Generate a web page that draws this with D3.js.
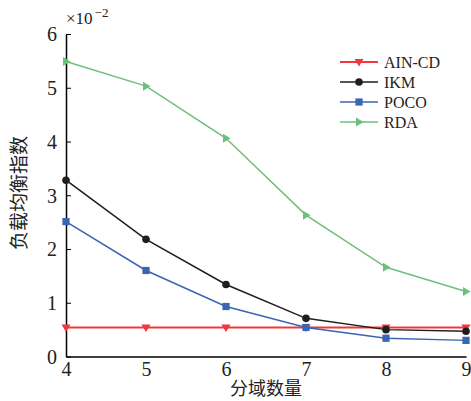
<!DOCTYPE html>
<html>
<head>
<meta charset="utf-8">
<script src="https://cdn.jsdelivr.net/npm/d3@7"></script>
<style>
  body { margin: 0; background: #fff; }
</style>
</head>
<body>
<div id="chart"></div>
<script>
var domains = [4, 5, 6, 7, 8, 9];
var yTicks = [0, 1, 2, 3, 4, 5, 6];
var seriesNames = ["AIN-CD", "IKM", "POCO", "RDA"];
var ainValues = [0.54, 0.54, 0.54, 0.54, 0.54, 0.54];
var ikmValues = [3.28, 2.18, 1.34, 0.71, 0.50, 0.47];
var pocoValues = [2.51, 1.60, 0.93, 0.54, 0.34, 0.30];
var rdaValues = [5.49, 5.03, 4.06, 2.63, 1.66, 1.21];

var serif = "'Liberation Serif', 'Times New Roman', 'DejaVu Serif', serif";
var cjk = "'Noto Sans CJK SC', sans-serif";

var width = 471, height = 401;
var margin = {left: 66, right: 5, top: 34, bottom: 44};

var svg = d3.select("#chart").append("svg")
    .attr("width", width)
    .attr("height", height);

var x = d3.scaleLinear().domain([4, 9]).range([margin.left, width - margin.right]);
var y = d3.scaleLinear().domain([0, 6]).range([height - margin.bottom - 0.5, margin.top]);

var series = [
  {name: seriesNames[0], values: ainValues, color: "#f0383c", symbol: "down"},
  {name: seriesNames[1], values: ikmValues, color: "#1e1e1e", symbol: "circle"},
  {name: seriesNames[2], values: pocoValues, color: "#3a64b4", symbol: "square"},
  {name: seriesNames[3], values: rdaValues, color: "#6cc07c", symbol: "right"}
];

// axes
var yAxis = svg.append("g")
  .attr("transform", "translate(" + margin.left + ",0)")
  .call(d3.axisRight(y).tickValues(yTicks).tickSize(5).tickSizeOuter(0).tickFormat(d3.format("d")));
yAxis.select(".domain").attr("stroke", "#000").attr("stroke-width", 1.5);
yAxis.selectAll(".tick line").attr("stroke", "#000");
yAxis.selectAll(".tick text").attr("x", -9).attr("dy", "0.34em").attr("text-anchor", "end")
  .style("font-size", "20px").style("font-family", serif).attr("fill", "#222");

var xAxis = svg.append("g")
  .attr("transform", "translate(0," + y(0) + ")")
  .call(d3.axisBottom(x).tickValues(domains).tickSize(0).tickSizeOuter(0).tickFormat(d3.format("d")));
xAxis.select(".domain").attr("stroke", "#000").attr("stroke-width", 1.5);
xAxis.selectAll(".tick text").attr("y", 19).attr("dy", 0)
  .style("font-size", "20px").style("font-family", serif).attr("fill", "#222");

// exponent
var expo = svg.append("text")
  .attr("x", 66).attr("y", 24)
  .style("font-size", "17px").style("font-family", serif).attr("fill", "#222");
expo.append("tspan").text("×10");
expo.append("tspan").attr("dx", 2).attr("dy", -7).style("font-size", "13px").text("−2");

// axis titles
svg.append("text")
  .attr("transform", "translate(26,193) rotate(-90)")
  .attr("text-anchor", "middle")
  .style("font-family", cjk)
  .style("font-size", "19px").attr("fill", "#222")
  .text("负载均衡指数");

svg.append("text")
  .attr("x", 266).attr("y", 395)
  .attr("text-anchor", "middle")
  .style("font-family", cjk)
  .style("font-size", "18px").attr("fill", "#222")
  .text("分域数量");

function drawMarker(g, type, color) {
  if (type === "circle") {
    g.append("circle").attr("r", 3.8).attr("fill", color);
  } else if (type === "square") {
    g.append("rect").attr("x", -3.6).attr("y", -3.6).attr("width", 7.2).attr("height", 7.2).attr("fill", color);
  } else if (type === "down") {
    g.append("path").attr("d", "M-4.5,-3L4.5,-3L0,4.5Z").attr("fill", color);
  } else {
    g.append("path").attr("d", "M-3,-4.5L4.5,0L-3,4.5Z").attr("fill", color);
  }
}

var line = d3.line()
  .x(function (d, i) { return x(domains[i]); })
  .y(function (d) { return y(d); });

series.forEach(function (s) {
  var w = s.symbol === "down" ? 2.2 : 1.5;
  svg.append("path")
    .datum(s.values)
    .attr("fill", "none")
    .attr("stroke", s.color)
    .attr("stroke-width", w)
    .attr("d", line);
  s.values.forEach(function (v, i) {
    var g = svg.append("g").attr("transform", "translate(" + x(domains[i]) + "," + y(v) + ")");
    drawMarker(g, s.symbol, s.color);
  });
});

// legend
var legend = svg.append("g").attr("transform", "translate(340,62)");
series.forEach(function (s, i) {
  var row = legend.append("g").attr("transform", "translate(0," + (i * 20) + ")");
  row.append("line").attr("x1", 0).attr("x2", 38)
    .attr("stroke", s.color).attr("stroke-width", s.symbol === "down" ? 2 : 1.5);
  var m = row.append("g").attr("transform", "translate(19,0)");
  drawMarker(m, s.symbol, s.color);
  row.append("text").attr("x", 44).attr("y", 5.5)
    .style("font-size", "16px").style("font-family", serif).attr("fill", "#222").text(s.name);
});
</script>
</body>
</html>
